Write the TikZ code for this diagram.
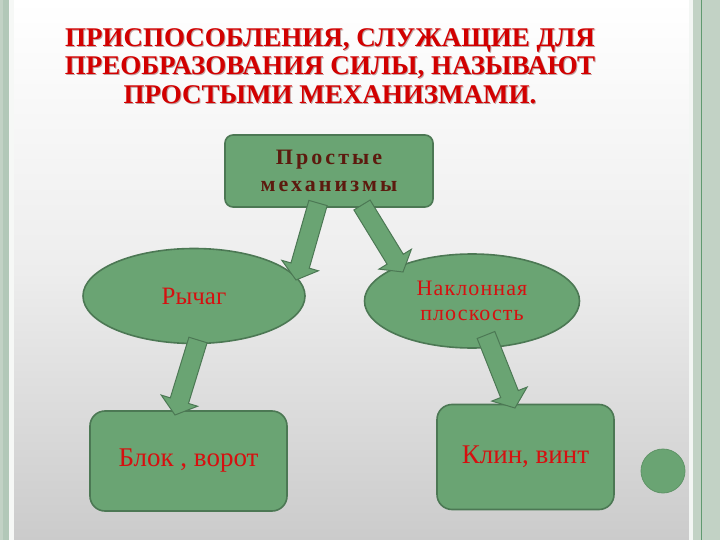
\documentclass[tikz,border=0pt]{standalone}
\usepackage{fontspec}
\newfontfamily\tnr{Liberation Serif}
\newfontfamily\spacedserif[LetterSpace=14]{Liberation Serif}
\newfontfamily\lightspaced[LetterSpace=5]{Liberation Serif}
\usetikzlibrary{calc,shapes.geometric}
\definecolor{nodegreen}{RGB}{106,164,115}
\definecolor{edgegreen}{RGB}{76,120,84}
\definecolor{titlered}{RGB}{210,0,0}
\definecolor{titleshade}{RGB}{90,0,0}
\definecolor{darkmaroon}{RGB}{92,26,14}
\definecolor{txtred}{RGB}{214,16,16}
\definecolor{stripgreen}{RGB}{194,210,197}
\definecolor{stripdark}{RGB}{178,200,184}
\definecolor{stripline}{RGB}{96,154,112}
\definecolor{panelgray}{RGB}{203,203,203}
\newcommand\blkarrow[3]{%
  \coordinate (#1c) at ($(#3)!15pt!(#2)$);
  \draw[blockarrow] ($(#2)!9.5pt!90:(#3)$) -- ($(#1c)!9.5pt!90:(#3)$) -- ($(#1c)!19pt!90:(#3)$)
    -- (#3) -- ($(#1c)!19pt!-90:(#3)$) -- ($(#1c)!9.5pt!-90:(#3)$) -- ($(#2)!9.5pt!-90:(#3)$) -- cycle;}
\begin{document}
\begin{tikzpicture}[x=1pt,y=-1pt,
  box/.style={draw=edgegreen, line width=1.6pt, fill=nodegreen, rounded corners=10pt, inner sep=0pt, align=center},
  oval/.style={ellipse, draw=edgegreen, line width=1.6pt, fill=nodegreen, inner sep=0pt, align=center},
  blockarrow/.style={draw=edgegreen, line width=1pt, fill=nodegreen, line join=miter},
  redtext/.style={text=txtred},
  titlefont/.style={align=center, font=\tnr\bfseries\fontsize{27}{28.5}\selectfont}]
\useasboundingbox (0,0) rectangle (720,540);
% background strips
\fill[stripgreen] (0,0) rectangle (720,540);
\fill[stripdark] (3,0) rectangle (9,540);
\fill[white!85!stripgreen] (9,0) rectangle (14,540);
\shade[top color=white, bottom color=panelgray, middle color=white!93!black] (14,0) rectangle (689,540);
\fill[white!80!stripgreen] (689,0) rectangle (693,540);
\fill[stripline] (700.5,0) rectangle (702,540);
% title
\node[titlefont, text=titleshade, opacity=0.35] (titleshadow) at (331,67)
  {ПРИСПОСОБЛЕНИЯ, СЛУЖАЩИЕ ДЛЯ\\ПРЕОБРАЗОВАНИЯ СИЛЫ, НАЗЫВАЮТ\\ПРОСТЫМИ МЕХАНИЗМАМИ.};
\node[titlefont, text=titlered] (title) at (330,66)
  {ПРИСПОСОБЛЕНИЯ, СЛУЖАЩИЕ ДЛЯ\\ПРЕОБРАЗОВАНИЯ СИЛЫ, НАЗЫВАЮТ\\ПРОСТЫМИ МЕХАНИЗМАМИ.};
% nodes
\node[box, rounded corners=8pt, minimum width=208pt, minimum height=72pt, text=darkmaroon,
  font=\spacedserif\bfseries\fontsize{22}{27}\selectfont] (top) at (329,171) {Простые\\механизмы};
\node[oval, minimum width=222pt, minimum height=95pt, redtext, font=\tnr\fontsize{25}{28}\selectfont] (lever) at (194,296) {Рычаг};
\node[oval, minimum width=215pt, minimum height=94pt, redtext, font=\lightspaced\fontsize{22}{25}\selectfont] (plane) at (472,301) {Наклонная\\плоскость};
\node[box, rounded corners=15pt, minimum width=197pt, minimum height=100pt, redtext, font=\tnr\fontsize{27}{30}\selectfont] (block) at (188.5,461) {Блок , ворот};
\node[box, rounded corners=15pt, minimum width=177pt, minimum height=105pt, redtext, font=\tnr\fontsize{27}{30}\selectfont] (wedge) at (525.5,457) {Клин, винт};
\node[circle, fill=nodegreen, draw=nodegreen!90!black, line width=0.8pt, minimum size=44pt, inner sep=0pt] (dot) at (663,471) {};
% arrow end points
\coordinate (a1s) at (318,203);
\coordinate (a1e) at (296,280);
\coordinate (a2s) at (362,205);
\coordinate (a2e) at (403,272);
\coordinate (a3s) at (198,340);
\coordinate (a3e) at (175,415);
\coordinate (a4s) at (486,335);
\coordinate (a4e) at (515,408);
\blkarrow{a1}{a1s}{a1e}
\blkarrow{a2}{a2s}{a2e}
\blkarrow{a3}{a3s}{a3e}
\blkarrow{a4}{a4s}{a4e}
\end{tikzpicture}
\end{document}
